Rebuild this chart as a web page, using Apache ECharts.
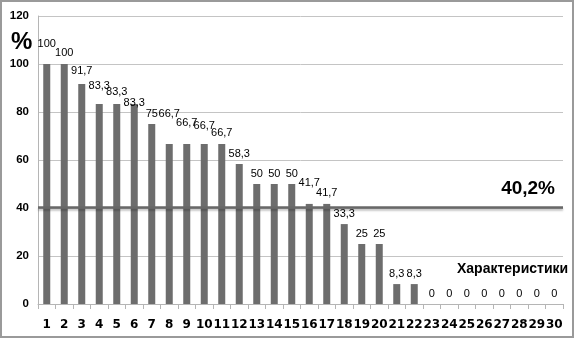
<!DOCTYPE html>
<html>
<head>
<meta charset="utf-8">
<script src="https://cdn.jsdelivr.net/npm/echarts@6/dist/echarts.min.js"></script>
<style>
  html, body { margin: 0; padding: 0; background: #fff; }
  #chart { width: 575px; height: 340px; }
</style>
</head>
<body>
<div id="chart"></div>
<script>
// номера характеристик
const categories = [];
for (let i = 1; i <= 30; i++) categories.push(String(i));

// доля, %
const values = [100, 100, 91.7, 83.3, 83.3, 83.3, 75, 66.7, 66.7, 66.7, 66.7, 58.3, 50, 50, 50,
  41.7, 41.7, 33.3, 25, 25, 8.3, 8.3, 0, 0, 0, 0, 0, 0, 0, 0];

const yTicks = [0, 20, 40, 60, 80, 100, 120];
const averageValue = 40.2;
const averageLabel = '40,2%';
const axisTitle = 'Характеристики';

// extra lift of some value labels (they are staggered in the original)
const labelLift = [10, 1, 2, 8, 2, -9, 0, 19, 10, 7, 0, 0, 0, 0, 0, 10, 0, 0, 0, 0, 0, 0, 0, 0, 0, 0, 0, 0, 0, 0];

const fontFamily = '"Liberation Sans", Arial, sans-serif';
const wideFont = '"DejaVu Sans", Verdana, sans-serif';
const chart = echarts.init(document.getElementById('chart'));

const option = {
  animation: false,
  backgroundColor: '#fff',
  grid: { left: 38, right: 12, top: 16, bottom: 36 },
  xAxis: {
    type: 'category',
    data: categories,
    axisLine: { lineStyle: { color: '#b5b5b5' } },
    axisTick: { show: true, length: 5, lineStyle: { color: '#b5b5b5' } },
    axisLabel: {
      interval: 0,
      margin: 15,
      color: '#000',
      fontWeight: 'bold',
      fontSize: 12,
      fontFamily: wideFont
    }
  },
  yAxis: {
    type: 'value',
    min: yTicks[0],
    max: yTicks[yTicks.length - 1],
    interval: 20,
    axisLine: { show: true, lineStyle: { color: '#b5b5b5' } },
    axisTick: { show: false },
    splitLine: { lineStyle: { color: '#c4c4c4' } },
    axisLabel: {
      margin: 9,
      color: '#000',
      fontWeight: 'bold',
      fontSize: 11.5,
      fontFamily: fontFamily
    }
  },
  series: [
    {
      type: 'bar',
      barWidth: 7,
      itemStyle: { color: '#6d6d6d' },
      data: values.map((v, i) => ({
        value: v,
        label: { offset: [0, -labelLift[i]] }
      })),
      label: {
        show: true,
        position: 'top',
        distance: 5,
        color: '#000',
        fontSize: 11,
        fontFamily: fontFamily,
        formatter: p => String(p.value).replace('.', ',')
      },
      markLine: {
        silent: true,
        symbol: 'none',
        lineStyle: {
          color: '#686868',
          width: 2.5,
          type: 'solid',
          shadowColor: 'rgba(0,0,0,0.25)',
          shadowBlur: 2,
          shadowOffsetY: 2
        },
        label: {
          show: true,
          position: 'insideEndTop',
          distance: [8, 9],
          formatter: averageLabel,
          color: '#000',
          fontWeight: 'bold',
          fontSize: 19,
          fontFamily: fontFamily
        },
        data: [{ yAxis: averageValue }]
      }
    }
  ],
  graphic: [
    {
      type: 'rect',
      shape: { x: 1, y: 1, width: 572, height: 336 },
      style: { fill: 'none', stroke: '#9a9a9a', lineWidth: 2 },
      silent: true
    },
    {
      type: 'text',
      left: 11,
      top: 30,
      style: {
        text: '%',
        font: 'bold 24px ' + fontFamily,
        fill: '#000'
      }
    },
    {
      type: 'text',
      left: 457,
      top: 262,
      style: {
        text: axisTitle,
        font: 'bold 14px ' + fontFamily,
        fill: '#000'
      }
    }
  ]
};

chart.setOption(option);
</script>
</body>
</html>
